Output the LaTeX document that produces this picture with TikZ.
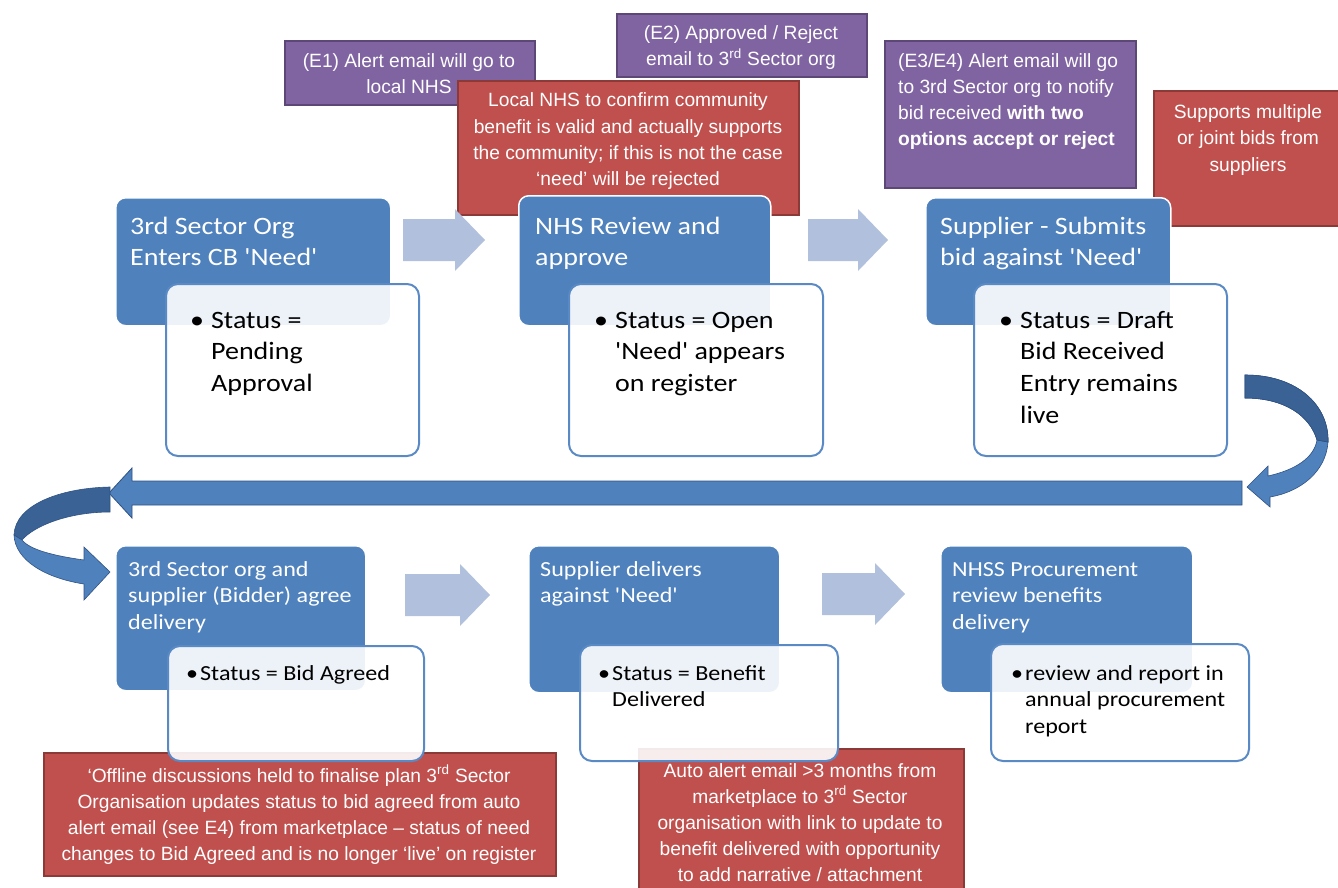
\documentclass[tikz,border=0pt]{standalone}
\usepackage{fontspec}
\setmainfont{Liberation Sans}
\newfontfamily\calfont[Ligatures=TeXOff, FakeStretch=1.12]{Carlito}
\definecolor{nblue}{HTML}{4F81BD}
\definecolor{nbluedark}{HTML}{3A6294}
\definecolor{nblueedge}{HTML}{2F5283}
\definecolor{npurple}{HTML}{8064A2}
\definecolor{npurpleb}{HTML}{5C4776}
\definecolor{nred}{HTML}{C0504D}
\definecolor{nredb}{HTML}{8C3A37}
\definecolor{ngray}{HTML}{B1C0DC}
\definecolor{nwhiteb}{HTML}{5A8AC6}
\tikzset{
  bluebox/.style={draw=white, line width=1.5pt, fill=nblue, rounded corners=10pt, anchor=north west, inner sep=0pt},
  whitebox/.style={draw=nwhiteb, line width=2pt, fill=white, fill opacity=0.9, rounded corners=12pt, anchor=north west, inner sep=0pt},
  purplebox/.style={draw=npurpleb, line width=2pt, fill=npurple, anchor=north west, inner sep=0pt},
  redbox/.style={draw=nredb, line width=2pt, fill=nred, anchor=north west, inner sep=0pt},
  notetext/.style={anchor=base, inner sep=0pt, text=white, font=\fontsize{19.2}{26}\selectfont},
  bluetext/.style={anchor=base west, inner sep=0pt, text=white, font=\calfont\fontsize{25}{31}\selectfont},
  bluetextsmall/.style={anchor=base west, inner sep=0pt, text=white, font=\calfont\fontsize{21.5}{26.5}\selectfont},
  listtext/.style={anchor=base west, inner sep=0pt, text=black, font=\calfont\fontsize{25}{31.7}\selectfont},
  listtextsmall/.style={anchor=base west, inner sep=0pt, text=black, font=\calfont\fontsize{21.5}{26.5}\selectfont},
  grayarrow/.style={fill=ngray},
  curvedark/.style={fill=nbluedark, draw=nblueedge, line width=0.6pt},
  curvelight/.style={fill=nblue, draw=nblueedge, line width=0.6pt},
}
\begin{document}
\begin{tikzpicture}[x=1pt, y=-1pt]
\useasboundingbox (0,0) rectangle (1338,888);
\clip (0,0) rectangle (1338,888);

% purple e-mail notes
\node[purplebox, minimum width=250pt, minimum height=64pt] (e1) at (284,40) {};
\node[notetext] (e1t) at (409,68) {\begin{tabular}[t]{@{}c@{}}(E1) Alert email will go to\\local NHS\end{tabular}};
\node[purplebox, minimum width=250pt, minimum height=63pt] (e2) at (616,13) {};
\node[notetext] (e2t) at (741,40) {\begin{tabular}[t]{@{}c@{}}(E2) Approved / Reject\\email to 3\textsuperscript{rd} Sector org\end{tabular}};
\node[purplebox, minimum width=251pt, minimum height=147pt] (e3) at (884,40) {};
\node[notetext, anchor=base west] (e3t) at (898,68) {\begin{tabular}[t]{@{}l@{}}(E3/E4) Alert email will go\\to 3rd Sector org to notify\\bid received \textbf{with two}\\\textbf{options accept or reject}\end{tabular}};

% red notes (top)
\node[redbox, minimum width=341pt, minimum height=134pt] (r1) at (457,80) {};
\node[notetext] (r1t) at (628,107) {\begin{tabular}[t]{@{}c@{}}Local NHS to confirm community\\benefit is valid and actually supports\\the community; if this is not the case\\‘need’ will be rejected\end{tabular}};
\node[redbox, minimum width=195pt, minimum height=135pt] (r2) at (1153,90) {};
\node[notetext] (r2t) at (1248,119) {\begin{tabular}[t]{@{}c@{}}Supports multiple\\or joint bids from\\suppliers\end{tabular}};

% top row
\node[bluebox, minimum width=275pt, minimum height=128pt] (b1) at (115,197) {};
\node[bluetext] (b1t) at (130,234) {\begin{tabular}[t]{@{}l@{}}3rd Sector Org\\Enters CB 'Need'\end{tabular}};
\node[bluebox, minimum width=252pt, minimum height=130pt] (b2) at (518,195) {};
\node[bluetext] (b2t) at (535,234) {\begin{tabular}[t]{@{}l@{}}NHS Review and\\approve\end{tabular}};
\node[bluebox, minimum width=245pt, minimum height=128pt] (b3) at (925,197) {};
\node[bluetext] (b3t) at (940,234) {\begin{tabular}[t]{@{}l@{}}Supplier - Submits\\bid against 'Need'\end{tabular}};

\node[whitebox, minimum width=253pt, minimum height=172pt] (w1) at (165,283) {};
\node[listtext] (w1t) at (190,328) {\begin{tabular}[t]{@{}l@{\hspace{7pt}}l@{}}\textbullet & Status =\\ & Pending\\ & Approval\end{tabular}};
\node[whitebox, minimum width=254pt, minimum height=172pt] (w2) at (568,283) {};
\node[listtext] (w2t) at (594,328) {\begin{tabular}[t]{@{}l@{\hspace{7pt}}l@{}}\textbullet & Status = Open\\ & 'Need' appears\\ & on register\end{tabular}};
\node[whitebox, minimum width=253pt, minimum height=172pt] (w3) at (973,283) {};
\node[listtext] (w3t) at (999,328) {\begin{tabular}[t]{@{}l@{\hspace{7pt}}l@{}}\textbullet & Status = Draft\\ & Bid Received\\ & Entry remains\\ & live\end{tabular}};

% gray block arrows (top)
\fill[grayarrow] (403,219) -- (455,219) -- (455,209) -- (485,240) -- (455,271) -- (455,261) -- (403,261) -- cycle;
\fill[grayarrow] (808,219) -- (858,219) -- (858,209) -- (888,240) -- (858,271) -- (858,261) -- (808,261) -- cycle;

% curved arrow on the right
\fill[curvedark] (1245,375) .. controls (1297,375) and (1329,405) .. (1328,442) -- (1317,440) .. controls (1310,416) and (1285,398) .. (1245,398) -- cycle;
\fill[curvelight] (1328,442) .. controls (1326,472) and (1300,492) .. (1270,497) -- (1270,507) -- (1247,487) -- (1268,466) -- (1268,476) .. controls (1295,470) and (1314,458) .. (1317,440) -- cycle;
\draw[curvedark] (1245,375) .. controls (1297,375) and (1329,405) .. (1328,442) -- (1317,440) .. controls (1310,416) and (1285,398) .. (1245,398) -- cycle;

% long return arrow
\coordinate (lrs) at (1242,493);
\coordinate (lre) at (109,493);
\filldraw[fill=nblue, draw=nblueedge, line width=0.8pt] (1242,481) -- (132,481) -- (132,468) -- (lre) -- (132,518) -- (132,505) -- (1242,505) -- cycle;

% curved arrow on the left
\filldraw[curvedark] (110,487) .. controls (60,488) and (15,505) .. (14,535) -- (22,540) .. controls (35,525) and (70,512) .. (110,512) -- cycle;
\filldraw[curvelight] (14,535) .. controls (15,560) and (45,578) .. (84,584) -- (84,600) -- (110,572) -- (84,547) -- (84,560) .. controls (55,556) and (30,550) .. (22,540) -- cycle;

% red notes (bottom)
\node[redbox, minimum width=512pt, minimum height=123pt] (r3) at (43,752) {};
\node[notetext] (r3t) at (299,782) {\begin{tabular}[t]{@{}c@{}}‘Offline discussions held to finalise plan 3\textsuperscript{rd} Sector\\Organisation updates status to bid agreed from auto\\alert email (see E4) from marketplace – status of need\\changes to Bid Agreed and is no longer ‘live’ on register\end{tabular}};
\node[redbox, minimum width=325pt, minimum height=150pt] (r4) at (638,748) {};
\node[notetext] (r4t) at (800,777) {\begin{tabular}[t]{@{}c@{}}Auto alert email >3 months from\\marketplace to 3\textsuperscript{rd} Sector\\organisation with link to update to\\benefit delivered with opportunity\\to add narrative / attachment\end{tabular}};

% bottom row
\node[bluebox, minimum width=250pt, minimum height=145pt] (b4) at (115,545) {};
\node[bluetextsmall] (b4t) at (128,576) {\begin{tabular}[t]{@{}l@{}}3rd Sector org and\\supplier (Bidder) agree\\delivery\end{tabular}};
\node[bluebox, minimum width=251pt, minimum height=147pt] (b5) at (528,545) {};
\node[bluetextsmall] (b5t) at (540,576) {\begin{tabular}[t]{@{}l@{}}Supplier delivers\\against 'Need'\end{tabular}};
\node[bluebox, minimum width=252pt, minimum height=147pt] (b6) at (940,545) {};
\node[bluetextsmall] (b6t) at (952,576) {\begin{tabular}[t]{@{}l@{}}NHSS Procurement\\review benefits\\delivery\end{tabular}};

\node[whitebox, minimum width=256pt, minimum height=115pt] (w4) at (167,645) {};
\node[listtextsmall] (w4t) at (186,680) {\begin{tabular}[t]{@{}l@{\hspace{2pt}}l@{}}\textbullet & Status = Bid Agreed\end{tabular}};
\node[whitebox, minimum width=258pt, minimum height=116pt] (w5) at (579,644) {};
\node[listtextsmall] (w5t) at (598,680) {\begin{tabular}[t]{@{}l@{\hspace{2pt}}l@{}}\textbullet & Status = Benefit\\ & Delivered\end{tabular}};
\node[whitebox, minimum width=258pt, minimum height=117pt] (w6) at (990,643) {};
\node[listtextsmall] (w6t) at (1011,680) {\begin{tabular}[t]{@{}l@{\hspace{2pt}}l@{}}\textbullet & review and report in\\ & annual procurement\\ & report\end{tabular}};

% gray block arrows (bottom)
\fill[grayarrow] (405,574) -- (460,574) -- (460,564) -- (490,595) -- (460,626) -- (460,616) -- (405,616) -- cycle;
\fill[grayarrow] (822,573) -- (875,573) -- (875,563) -- (905,594) -- (875,625) -- (875,615) -- (822,615) -- cycle;
\end{tikzpicture}
\end{document}
